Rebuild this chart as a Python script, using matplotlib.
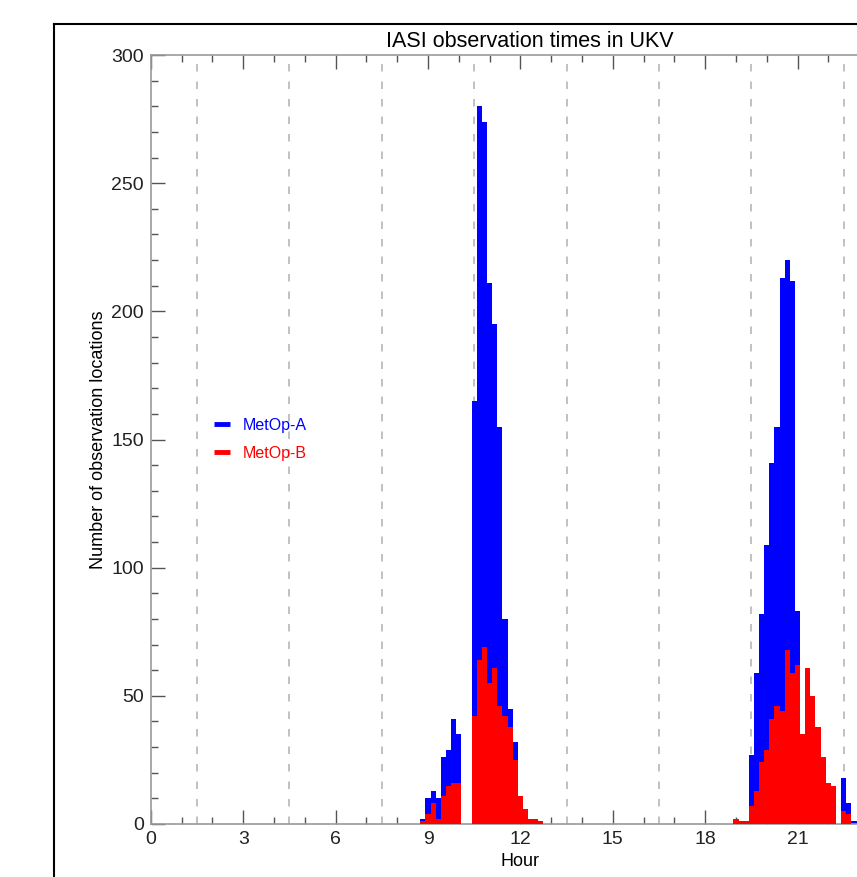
import numpy as np
import matplotlib
matplotlib.use("Agg")
import matplotlib.pyplot as plt
from matplotlib.lines import Line2D
from matplotlib.ticker import MultipleLocator

plt.rcParams['font.family'] = ['Liberation Sans', 'DejaVu Sans']
plt.rcParams['lines.scale_dashes'] = False

# 10-minute bins, centre given as minute of the day
bin_minutes = [530, 540, 550, 560, 570, 580, 590, 600, 610, 620,
               630, 640, 650, 660, 670, 680, 690, 700, 710, 720,
               730, 740, 750, 760,
               1140, 1150, 1160, 1170, 1180, 1190, 1200, 1210, 1220, 1230,
               1240, 1250, 1260, 1270, 1280, 1290, 1300, 1310, 1320, 1330,
               1340, 1350, 1360, 1370]
metop_a = [2, 10, 13, 10, 26, 29, 41, 35, 0, 0,
           165, 280, 274, 211, 195, 155, 80, 45, 32, 5,
           2, 1, 0, 0,
           0, 0, 0, 27, 59, 82, 109, 141, 155, 213,
           220, 212, 83, 30, 20, 12, 8, 5, 3, 1,
           0, 18, 8, 1]
metop_b = [1, 4, 8, 2, 11, 15, 16, 16, 0, 0,
           42, 64, 69, 55, 61, 46, 42, 38, 25, 11,
           6, 2, 2, 1,
           2, 1, 1, 7, 13, 24, 29, 41, 46, 44,
           68, 59, 62, 35, 61, 50, 38, 26, 16, 15,
           0, 5, 4, 0]

# assimilation window boundaries (hours)
window_edges = [1.5, 4.5, 7.5, 10.5, 13.5, 16.5, 19.5, 22.5]
hour_ticks = [0, 3, 6, 9, 12, 15, 18, 21, 24]
hour_labels = ['0', '3', '6', '9', '12', '15', '18', '21', '']  # 24 falls off the crop

W, H = 857, 877
fig = plt.figure(figsize=(W / 100, H / 100), dpi=100)
ax = fig.add_axes([150.9 / W, 53 / H, 739 / W, 769 / H])

hours = np.array(bin_minutes) / 60.0
ax.bar(hours, metop_a, width=1 / 6, color='#0000ff', linewidth=0, zorder=2)
ax.bar(hours, metop_b, width=1 / 6, color='#ff0000', linewidth=0, zorder=3)
for x in window_edges:
  ax.axvline(x, color='#b0b0b0', lw=1.1, ls=(0, (5.4, 7.2)), zorder=1)

ax.set_xlim(0, 24)
ax.set_ylim(0, 300)
ax.set_xticks(hour_ticks, labels=hour_labels)
ax.xaxis.set_minor_locator(MultipleLocator(1))
ax.yaxis.set_major_locator(MultipleLocator(50))
ax.yaxis.set_minor_locator(MultipleLocator(10))
ax.tick_params(which='both', direction='in', top=True, right=True,
               colors='#555555', labelcolor='#222222', labelsize=14)
ax.tick_params(which='major', length=10, width=1.0, pad=5)
ax.tick_params(which='minor', length=5, width=1.0)
for s in ax.spines.values():
  s.set_color('#9a9a9a')
  s.set_linewidth(1.2)

ax.set_title('IASI observation times in UKV', fontsize=15.5, pad=6,
             x=(530 - 150.9) / 739)
ax.set_xlabel('Hour', fontsize=13, labelpad=4)
ax.set_ylabel('Number of observation locations', fontsize=13, labelpad=3)

handles = [Line2D([], [], color='#0000ff', lw=3.5, solid_capstyle='butt'),
           Line2D([], [], color='#ff0000', lw=3.5, solid_capstyle='butt')]
ax.legend(handles, ['MetOp-A', 'MetOp-B'], loc='upper left',
          bbox_to_anchor=(0.0854, 0.528), frameon=False, fontsize=11.5,
          handlelength=1.0, handletextpad=0.8, labelspacing=0.8,
          borderpad=0, borderaxespad=0, labelcolor='linecolor')

# screenshot frame
bx, by = 54 / W, 1 - 24 / H
fig.add_artist(Line2D([bx, bx], [0, by], color='black', lw=1.5,
                      transform=fig.transFigure))
fig.add_artist(Line2D([bx, 1], [by, by], color='black', lw=1.5,
                      transform=fig.transFigure))

fig.savefig('out.png', dpi=100)
